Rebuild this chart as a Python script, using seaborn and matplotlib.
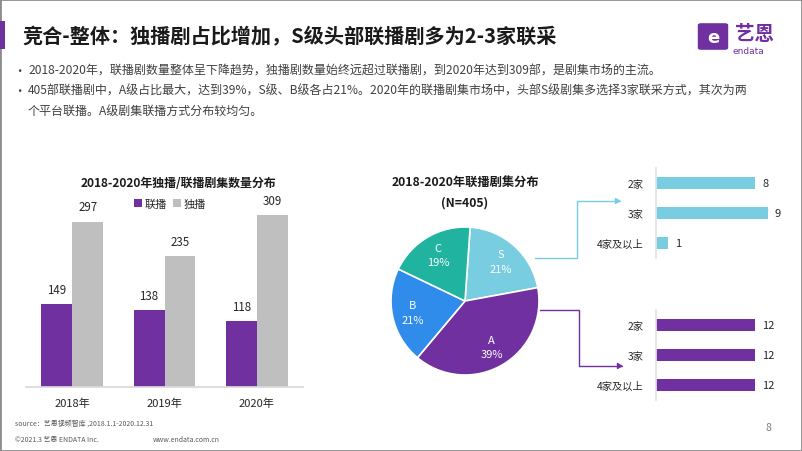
import matplotlib
matplotlib.use('Agg')
import matplotlib.pyplot as plt
import seaborn as sns
import pandas as pd
from matplotlib.patches import FancyArrowPatch, Rectangle, FancyBboxPatch
from matplotlib.path import Path

# ---- data ----
years = ['2018年', '2019年', '2020年']
lianbo = [149, 138, 118]
dubo = [297, 235, 309]
grades = ['S', 'A', 'B', 'C']
grade_share = [21, 39, 21, 19]
platforms = ['2家', '3家', '4家及以上']
s_counts = [8, 9, 1]
a_counts = [12, 12, 12]

PURPLE = '#7030A0'
GRAY = '#BFBFBF'
CYAN = '#79CDE0'
BLUE = '#2F8CEB'
TEAL = '#20B39F'
TXT = '#262626'

W, H = 802, 452


def fx(x):
    return x / W


def fy(y):
    return 1 - y / H


def box(l, t, r, b):
    return [l / W, 1 - b / H, (r - l) / W, (b - t) / H]


sns.set_theme(style='white')
plt.rcParams['font.family'] = ['Noto Sans CJK SC', 'DejaVu Sans']

fig = plt.figure(figsize=(W / 100, H / 100), dpi=100)
fig.patch.set_facecolor('white')

# frame + accent
fig.add_artist(Rectangle((0, 0), 1, 1, transform=fig.transFigure, fill=False,
                         edgecolor='#8C8C8C', linewidth=2))
fig.add_artist(Rectangle((0, fy(50)), fx(5), (50 - 22) / H, transform=fig.transFigure,
                         color=PURPLE, linewidth=0))

# title
fig.text(fx(22), fy(37), '竞合-整体：独播剧占比增加，S级头部联播剧多为2-3家联采',
         fontsize=14.5, fontweight='bold', color='#1A1A1A', va='center', ha='left')

# logo
fig.add_artist(FancyBboxPatch((fx(701), fy(49)), fx(24), (49 - 26) / H,
                              boxstyle='round,pad=0.004', transform=fig.transFigure,
                              facecolor=PURPLE, edgecolor='none'))
fig.text(fx(713), fy(38), 'e', color='white', fontsize=13, fontweight='bold',
         ha='center', va='center', family='DejaVu Sans')
fig.text(fx(755), fy(35), '艺恩', color=PURPLE, fontsize=14, fontweight='bold',
         ha='center', va='center')
fig.text(fx(748), fy(52), 'endata', color=PURPLE, fontsize=6.5,
         ha='center', va='center', family='DejaVu Sans')

# bullets
bullets = [
    (71, '•', '2018-2020年，联播剧数量整体呈下降趋势，独播剧数量始终远超过联播剧，到2020年达到309部，是剧集市场的主流。'),
    (91, '•', '405部联播剧中，A级占比最大，达到39%，S级、B级各占21%。2020年的联播剧集市场中，头部S级剧集多选择3家联采方式，其次为两'),
    (111, '', '个平台联播。A级剧集联播方式分布较均匀。'),
]
for y, b, t in bullets:
    if b:
        fig.text(fx(13), fy(y), b, fontsize=9, color='#404040', va='center')
    fig.text(fx(28), fy(y), t, fontsize=8.65, color='#404040', va='center')

# ---- grouped bar chart ----
df = pd.DataFrame({'年份': years * 2, '类型': ['联播'] * 3 + ['独播'] * 3,
                   '数量': lianbo + dubo})
ax1 = fig.add_axes(box(26, 170, 303, 388))
sns.barplot(data=df, x='年份', y='数量', hue='类型', palette=[PURPLE, GRAY],
            width=0.67, saturation=1, errorbar=None, linewidth=0, ax=ax1)
ax1.set_ylim(0, 392)
for c in ax1.containers:
    ax1.bar_label(c, padding=6, fontsize=8.3, color=TXT)
for s in ['top', 'right', 'left']:
    ax1.spines[s].set_visible(False)
ax1.spines['bottom'].set_color('#D9D9D9')
ax1.set_yticks([])
ax1.set_xlabel('')
ax1.set_ylabel('')
ax1.tick_params(axis='x', length=0, pad=8, labelsize=8, labelcolor=TXT)
ax1.legend(loc='center', bbox_to_anchor=(0.52, 0.84), ncol=2, frameon=False,
           fontsize=8, handlelength=0.7, handleheight=0.7, handletextpad=0.3,
           columnspacing=0.5, borderaxespad=0)
ax1.set_facecolor('none')
fig.text(fx(178), fy(184), '2018-2020年独播/联播剧集数量分布', fontsize=8.6,
         fontweight='bold', ha='center', va='center', color='#1A1A1A')

# ---- pie ----
ax2 = fig.add_axes(box(465 - 81.4, 302 - 81.4, 465 + 81.4, 302 + 81.4))
labels = [f'{g}\n{p}%' for g, p in zip(grades, grade_share)]
wedges, texts = ax2.pie(grade_share, colors=[CYAN, PURPLE, BLUE, TEAL],
                        startangle=86, counterclock=False, labels=labels,
                        labeldistance=0.72,
                        wedgeprops=dict(edgecolor='white', linewidth=1.2),
                        textprops=dict(color='white', fontsize=8))
for t in texts:
    t.set_ha('center')
    t.set_va('center')
    t.set_linespacing(1.6)
ax2.set_xlim(-1.1, 1.1)
ax2.set_ylim(-1.1, 1.1)
fig.text(fx(465), fy(183), '2018-2020年联播剧集分布', fontsize=8.8,
         fontweight='bold', ha='center', va='center', color='#1A1A1A')
fig.text(fx(465), fy(203), '(N=405)', fontsize=8.8,
         fontweight='bold', ha='center', va='center', color='#1A1A1A')

# connectors
for pts, col in [([(535, 259), (577, 259), (577, 202), (621, 202)], CYAN),
                 ([(540, 311), (579, 311), (579, 367), (623, 367)], PURPLE)]:
    path = Path([(fx(x), fy(y)) for x, y in pts])
    fig.add_artist(FancyArrowPatch(path=path, arrowstyle='-|>,head_length=3,head_width=1.8',
                                   color=col, linewidth=1, transform=fig.transFigure))

# ---- horizontal bars ----
for (top, bot), vals, col, xmax in [((169, 259), s_counts, CYAN, 10.8),
                                    ((311, 401), a_counts, PURPLE, 16.2)]:
    ax = fig.add_axes(box(656, top, 790, bot))
    sns.barplot(x=vals, y=platforms, orient='h', color=col, saturation=1,
                width=0.37, errorbar=None, linewidth=0, ax=ax)
    ax.set_xlim(0, xmax)
    for c in ax.containers:
        ax.bar_label(c, padding=5, fontsize=8, color=TXT)
    for s in ['top', 'right', 'bottom']:
        ax.spines[s].set_visible(False)
    ax.spines['left'].set_color('#E3E3E3')
    ax.set_xticks([])
    ax.tick_params(axis='y', length=0, pad=9, labelsize=7.4, labelcolor=TXT)
    ax.set_facecolor('none')

# footer
fig.text(fx(15), fy(424), 'source：艺恩视频智库 ,2018.1.1-2020.12.31', fontsize=5,
         color='#595959', va='center')
fig.text(fx(15), fy(440), '©2021.3 艺恩 ENDATA Inc.', fontsize=5,
         color='#595959', va='center')
fig.text(fx(153), fy(440), 'www.endata.com.cn', fontsize=5,
         color='#595959', va='center')
fig.text(fx(765), fy(428), '8', fontsize=7.5, color='#7F7F7F', va='center')

fig.savefig('out.png', dpi=100)
